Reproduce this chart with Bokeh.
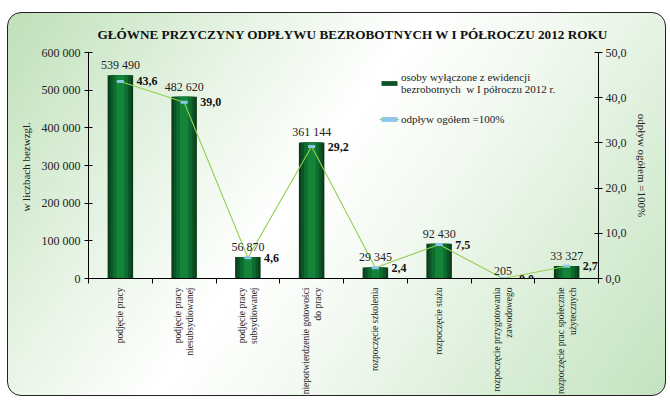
import numpy as np
from bokeh.plotting import figure
from bokeh.models import Range1d, LinearAxis, FixedTicker, Legend, LegendItem
from bokeh.embed import file_html
from bokeh.resources import INLINE
from bokeh.core.properties import value

title_text = "GŁÓWNE  PRZYCZYNY  ODPŁYWU  BEZROBOTNYCH  W I PÓŁROCZU  2012 ROKU"
categories = [
    "podjęcie pracy",
    "podjęcie pracy\nniesubsydiowanej",
    "podjęcie pracy\nsubsydiowanej",
    "niepotwierdzenie gotowości\ndo pracy",
    "rozpoczęcie szkolenia",
    "rozpoczęcie stażu",
    "rozpoczęcie przygotowania\nzawodowego",
    "rozpoczęcie prac społecznie\nużytecznych",
]
counts = [539490, 482620, 56870, 361144, 29345, 92430, 205, 33327]
shares = [43.6, 39.0, 4.6, 29.2, 2.4, 7.5, 0.0, 2.7]
left_ticks = [0, 100000, 200000, 300000, 400000, 500000, 600000]
left_tick_labels = ["0", "100 000", "200 000", "300 000", "400 000", "500 000", "600 000"]
right_ticks = [0, 10, 20, 30, 40, 50]
right_tick_labels = ["0,0", "10,0", "20,0", "30,0", "40,0", "50,0"]
series_bar = "osoby wyłączone z ewidencji\nbezrobotnych  w I półroczu 2012 r."
series_line = "odpływ ogółem =100%"
left_label = "w liczbach  bezwzgl."
right_label = "odpływ ogółem =100%"

FONT = "Liberation Serif"
n = len(categories)
xs = [i + 0.5 for i in range(n)]
count_labels = [f"{c:,}".replace(",", " ") for c in counts]
share_labels = [f"{s:.1f}".replace(".", ",") for s in shares]

p = figure(
    width=659, height=384,
    x_range=Range1d(0, n), y_range=Range1d(0, 600000),
    output_backend="svg", toolbar_location=None,
    min_border_left=80, min_border_right=69, min_border_top=39, min_border_bottom=118,
    background_fill_color=None, border_fill_color=None, outline_line_color=None,
    title=title_text,
    margin=(12, 0, 0, 7),
    styles={
        "background": "linear-gradient(125deg, #bfe0b9 0%, #e9f5e7 28%, #ffffff 45%, #f2f9f1 60%, #c3e3bf 100%)",
        "border": "1px solid #222",
        "border-radius": "14px",
    },
)
p.title.text_font = FONT
p.title.text_font_size = "13.2px"
p.title.align = "left"
p.title.offset = 9
p.title.text_color = "#111"
p.title.standoff = 22

p.xgrid.visible = False
p.ygrid.visible = False

p.extra_y_ranges = {"pct": Range1d(0, 50)}

# x axis
xa = p.below[0]
xa.ticker = FixedTicker(ticks=xs, minor_ticks=list(range(n + 1)))
xa.major_label_overrides = {x: c for x, c in zip(xs, categories)}
xa.major_tick_in = 0
xa.major_tick_out = 0
xa.minor_tick_in = 0
xa.minor_tick_out = 5
xa.minor_tick_line_color = "black"
xa.axis_line_color = "black"
xa.major_label_orientation = np.pi / 2
xa.major_label_standoff = 4
xa.major_label_text_font = FONT
xa.major_label_text_font_size = "9.5px"
xa.major_label_text_color = "#222"

# left axis
ya = p.left[0]
ya.ticker = FixedTicker(ticks=left_ticks, minor_ticks=[])
ya.major_label_overrides = {t: l for t, l in zip(left_ticks, left_tick_labels)}
ya.major_tick_in = 4
ya.major_tick_out = 4
ya.minor_tick_in = 0
ya.minor_tick_out = 0
ya.major_label_standoff = 4
ya.major_label_text_font = FONT
ya.major_label_text_font_size = "12px"
ya.major_label_text_color = "#222"
ya.axis_label = left_label
ya.axis_label_text_font = FONT
ya.axis_label_text_font_style = "normal"
ya.axis_label_text_font_size = "11px"
ya.axis_label_text_color = "#222"
ya.axis_label_standoff = 7

ra = LinearAxis(y_range_name="pct")
ra.ticker = FixedTicker(ticks=right_ticks, minor_ticks=[])
ra.major_label_overrides = {t: l for t, l in zip(right_ticks, right_tick_labels)}
ra.major_tick_in = 4
ra.major_tick_out = 4
ra.minor_tick_in = 0
ra.minor_tick_out = 0
ra.major_label_standoff = 3
ra.major_label_text_font = FONT
ra.major_label_text_font_size = "12px"
ra.major_label_text_color = "#222"
ra.axis_label = right_label
ra.axis_label_text_font = FONT
ra.axis_label_text_font_style = "normal"
ra.axis_label_text_font_size = "11px"
ra.axis_label_text_color = "#222"
ra.axis_label_standoff = 6
p.add_layout(ra, "right")

# bars with layered shading
layers = [(0.40, "#0a3d1b"), (0.33, "#0c5425"), (0.24, "#0f6c2f"), (0.13, "#138438")]
bar_rs = []
for w, col in layers:
    r = p.vbar(x=xs, top=counts, width=w, bottom=0, fill_color=col, line_color=None)
    bar_rs.append(r)

line_r = p.line(xs, shares, y_range_name="pct", line_color="#92d050", line_width=1.1)
mark_r = p.rect(xs, shares, width=7, height=3, width_units="screen", height_units="screen",
                fill_color="#8ec6ea", line_color=None, y_range_name="pct")

p.text(xs, counts, text=count_labels, text_align="center", text_baseline="bottom",
       y_offset=-3, text_font=value(FONT), text_font_size="12px", text_color="#222")
p.text(xs, shares, text=share_labels, text_align="left", text_baseline="middle",
       x_offset=16, y_range_name="pct", text_font=value(FONT), text_font_size="12px",
       text_font_style="bold", text_color="#111")

legend = Legend(
    items=[LegendItem(label=series_bar, renderers=[bar_rs[1]]),
           LegendItem(label=series_line, renderers=[line_r, mark_r])],
    location=(291, 153),
    border_line_color=None, background_fill_alpha=0,
    label_text_font=FONT, label_text_font_size="11px", label_text_color="#222",
    label_text_line_height=1.25,
    glyph_width=20, glyph_height=6, padding=0, margin=0, spacing=18, label_standoff=2,
)
p.add_layout(legend)

open("out.html", "w").write(file_html(p, INLINE))
